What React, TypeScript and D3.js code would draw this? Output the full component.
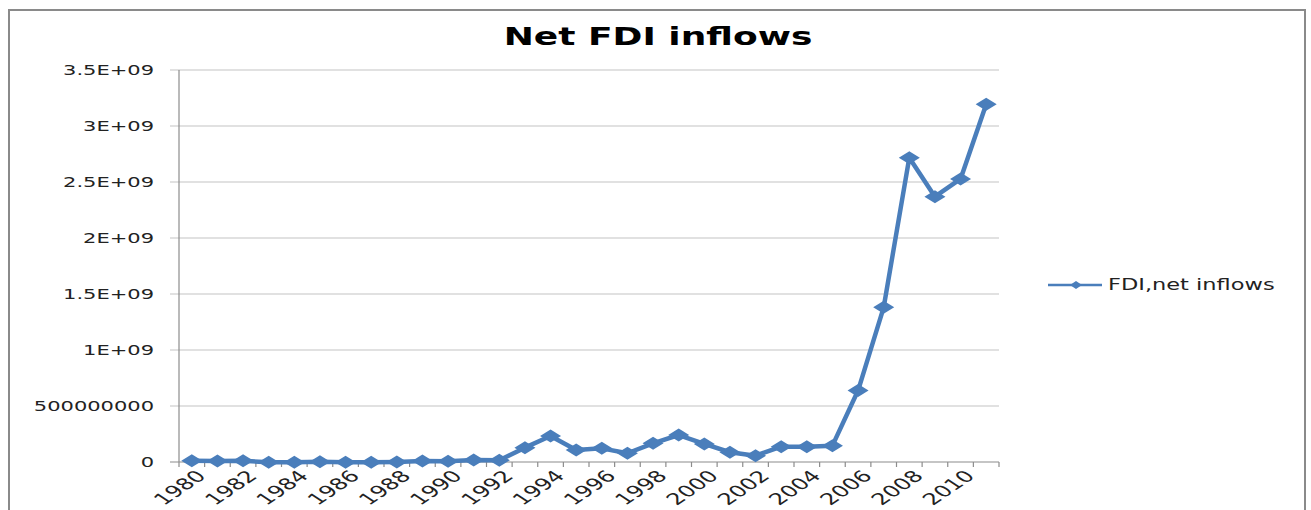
import React from "react";
import * as d3 from "d3";

const years: number[] = [
  1980, 1981, 1982, 1983, 1984, 1985, 1986, 1987, 1988, 1989, 1990, 1991,
  1992, 1993, 1994, 1995, 1996, 1997, 1998, 1999, 2000, 2001, 2002, 2003,
  2004, 2005, 2006, 2007, 2008, 2009, 2010, 2011,
];
const fdiValues: number[] = [
  1.2e7, 1.0e7, 1.1e7, -2e6, -3e6, 2e6, -3e6, -3e6, 1e6, 8e6, 7e6, 1.8e7,
  1.5e7, 1.28e8, 2.32e8, 1.07e8, 1.22e8, 7.8e7, 1.67e8, 2.41e8, 1.61e8, 8.7e7,
  5.6e7, 1.37e8, 1.37e8, 1.46e8, 6.38e8, 1.381e9, 2.717e9, 2.369e9, 2.527e9,
  3.194e9,
];
const yTicks: number[] = [0, 5e8, 1e9, 1.5e9, 2e9, 2.5e9, 3e9, 3.5e9];
const yTickLabels: string[] = [
  "0", "500000000", "1E+09", "1.5E+09", "2E+09", "2.5E+09", "3E+09", "3.5E+09",
];
const xTickLabels: string[] = years.filter((y) => y % 2 === 0).map(String);
const title = "Net FDI inflows";
const seriesName = "FDI,net inflows";

const W = 1311;
const H = 510;
const plot = { left: 179, right: 999, top: 70, bottom: 462 };
const SX = 1.5; // horizontal stretch of the reference image
const BLUE = "#4A7EBB";
const FONT = "'DejaVu Sans', sans-serif";

export default function App() {
  const x = d3
    .scaleBand<string>()
    .domain(years.map(String))
    .range([plot.left, plot.right])
    .paddingInner(0)
    .paddingOuter(0);
  const y = d3.scaleLinear().domain([0, 3.5e9]).range([plot.bottom, plot.top]);
  const cx = (yr: number) => (x(String(yr)) as number) + x.bandwidth() / 2;

  const line = d3
    .line<number>()
    .x((_, i) => cx(years[i]))
    .y((v) => y(v));

  const diamond = (px: number, py: number, hw: number, hh: number) =>
    `M${px - hw},${py}L${px},${py - hh}L${px + hw},${py}L${px},${py + hh}Z`;

  const bw = x.bandwidth();
  const tickXs = d3.range(years.length + 1).map((i) => plot.left + i * bw);

  return (
    <svg
      width={W}
      height={H}
      style={{ position: "absolute", left: 0, top: 0, background: "#fff" }}
      fontFamily={FONT}
    >
      <rect x={0} y={0} width={W} height={H} fill="#fff" />
      {/* outer frame */}
      <path d={`M9,${H}V10H1305V${H}`} fill="none" stroke="#8a8a8a" strokeWidth={2} />

      {/* title */}
      <text
        transform={`translate(658,45) scale(${SX},1)`}
        textAnchor="middle"
        fontSize={24}
        fontWeight="bold"
        fill="#000"
      >
        {title}
      </text>

      {/* gridlines */}
      {yTicks.slice(1).map((t) => (
        <line
          key={t}
          x1={plot.left - 9}
          x2={plot.right}
          y1={y(t)}
          y2={y(t)}
          stroke="#c4c4c4"
          strokeWidth={1.2}
        />
      ))}

      {/* y axis */}
      <line x1={plot.left} x2={plot.left} y1={plot.top} y2={plot.bottom} stroke="#8c8c8c" strokeWidth={1.2} />
      {yTicks.map((t, i) => (
        <text
          key={"yl" + t}
          transform={`translate(154,${y(t) + 5}) scale(${SX},1)`}
          textAnchor="end"
          fontSize={14}
          fill="#222"
        >
          {yTickLabels[i]}
        </text>
      ))}

      {/* x axis */}
      <line x1={plot.left - 9} x2={plot.right} y1={plot.bottom} y2={plot.bottom} stroke="#8c8c8c" strokeWidth={1.2} />
      {tickXs.map((tx, i) => (
        <line key={"xt" + i} x1={tx} x2={tx} y1={plot.bottom} y2={plot.bottom + 5} stroke="#8c8c8c" strokeWidth={1.2} />
      ))}
      {xTickLabels.map((lbl) => (
        <text
          key={"xl" + lbl}
          transform={`translate(${cx(+lbl) + 3},${plot.bottom + 7}) scale(${SX},1) rotate(-45)`}
          textAnchor="end"
          dy="0.72em"
          fontSize={16}
          fill="#222"
        >
          {lbl}
        </text>
      ))}

      {/* series */}
      <path d={line(fdiValues) || ""} fill="none" stroke={BLUE} strokeWidth={4.5} strokeLinejoin="round" />
      {fdiValues.map((v, i) => (
        <path key={"m" + i} d={diamond(cx(years[i]), y(v), 10.5, 6.5)} fill={BLUE} />
      ))}

      {/* legend */}
      <line x1={1048} x2={1102} y1={285} y2={285} stroke={BLUE} strokeWidth={2.5} />
      <path d={diamond(1076, 285, 6, 4)} fill={BLUE} />
      <text
        transform={`translate(1108,290) scale(${SX},1)`}
        fontSize={15}
        fill="#222"
      >
        {seriesName}
      </text>
    </svg>
  );
}
